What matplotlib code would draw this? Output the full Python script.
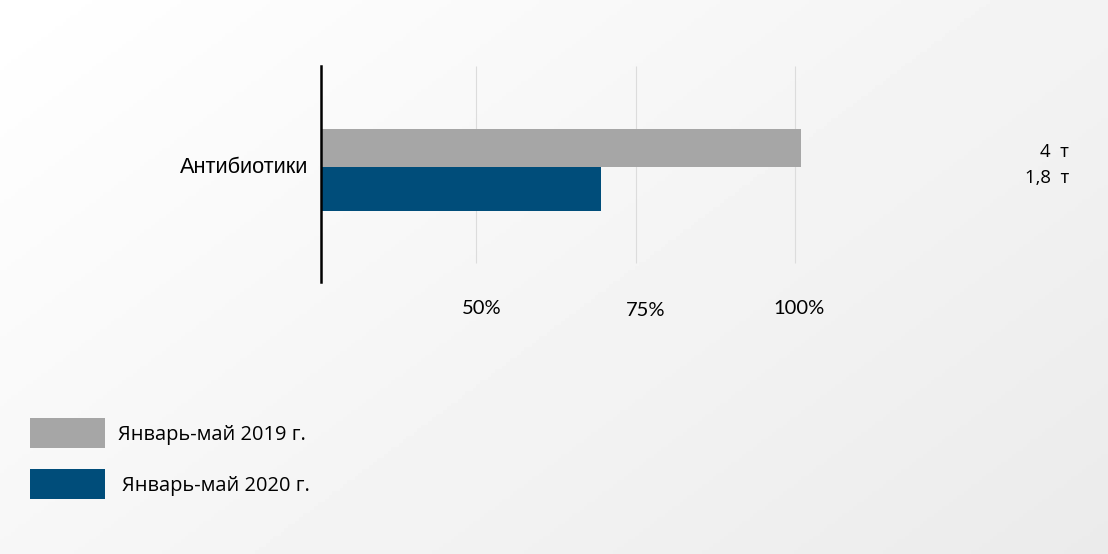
import numpy as np
import matplotlib
matplotlib.use('Agg')
import matplotlib.pyplot as plt
import matplotlib.transforms as mtransforms
from matplotlib.patches import Rectangle

# Data
categories = ['Антибиотики']
series_names = ['Январь-май 2019 г.', 'Январь-май 2020 г.']
values_2019 = [100.9]
values_2020 = [69.6]
value_labels_2019 = ['4  т']
value_labels_2020 = ['1,8  т']
tick_values = [50, 75, 100]
tick_labels = ['50%', '75%', '100%']

GREY = '#a6a6a6'
BLUE = '#004d7a'

W, H = 1108, 554
fig = plt.figure(figsize=(W / 100, H / 100), dpi=100)

# background gradient (white top-left -> light grey bottom-right)
bg = fig.add_axes([0, 0, 1, 1], zorder=-10)
xx, yy = np.meshgrid(np.linspace(0, 1, 300), np.linspace(0, 1, 150))
grad = 0.6 * xx + 0.4 * yy
bg.imshow(1 - 0.08 * grad, cmap='gray', vmin=0, vmax=1, aspect='auto',
          extent=[0, 1, 1, 0])
bg.set_axis_off()

# main axes: left spine at x=321 px, top 66 px, bottom 282 px
x0, x1 = 25.7, 105
px_per = 159.5 / 25
ax_left = 321
ax_right = ax_left + (x1 - x0) * px_per
ax = fig.add_axes([ax_left / W, 1 - 282 / H, (ax_right - ax_left) / W, (282 - 66) / H])
ax.patch.set_alpha(0)

y = np.arange(len(categories))
ax.barh(y + 0.09, values_2019, height=0.2, color=GREY, zorder=2)
ax.barh(y - 0.127, values_2020, height=0.233, color=BLUE, zorder=2)

ax.set_xlim(x0, x1)
ax.set_ylim(-0.617, 0.522)

ax.vlines(tick_values, 0.09, 1.0, transform=ax.get_xaxis_transform(),
          color='#dcdcdc', linewidth=0.8, zorder=1)

for s in ['top', 'right', 'bottom']:
    ax.spines[s].set_visible(False)
ax.spines['left'].set_linewidth(1.8)
ax.spines['left'].set_color('black')

ax.set_xticks(tick_values)
ax.set_xticklabels(tick_labels, family=['Lato', 'DejaVu Sans'], fontsize=14.5)
ax.tick_params(axis='x', length=0, pad=13)
for lbl, dx, dy in zip(ax.get_xticklabels(), [6, 10, 4], [0, -2, 0]):
    lbl.set_transform(lbl.get_transform() + mtransforms.ScaledTranslation(dx / 100, dy / 100, fig.dpi_scale_trans))
ax.set_yticks(y)
ax.set_yticklabels(categories, family=['Liberation Sans', 'DejaVu Sans'], fontsize=15.7)
ax.tick_params(axis='y', length=0, pad=9)

# value labels at the right
for i in range(len(categories)):
    fig.text(1069 / W, 1 - 152 / H, value_labels_2019[i], ha='right', va='center',
             family=['Open Sans', 'DejaVu Sans'], fontsize=13.3)
    fig.text(1069 / W, 1 - 178 / H, value_labels_2020[i], ha='right', va='center',
             family=['Open Sans', 'DejaVu Sans'], fontsize=13.3)

# legend
for (ytop, col, name, tx) in [(418, GREY, series_names[0], 118), (469, BLUE, series_names[1], 122)]:
    fig.patches.append(Rectangle((30 / W, 1 - (ytop + 30) / H), 75 / W, 30 / H,
                                 transform=fig.transFigure, facecolor=col, edgecolor='none'))
    fig.text(tx / W, 1 - (ytop + 17) / H, name, ha='left', va='center',
             family=['Open Sans', 'DejaVu Sans'], fontsize=14.4)

fig.savefig('out.png', dpi=100)
